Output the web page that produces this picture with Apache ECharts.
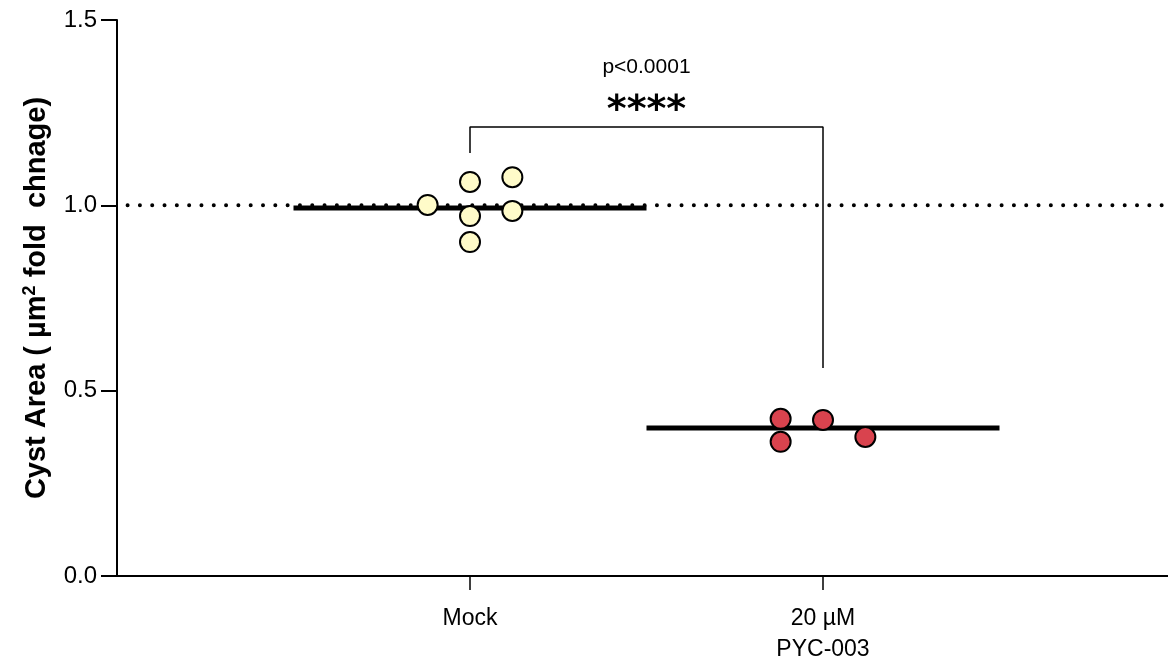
<!DOCTYPE html>
<html>
<head>
<meta charset="utf-8">
<script src="https://cdn.jsdelivr.net/npm/echarts@6/dist/echarts.min.js"></script>
<style>
  html, body { margin: 0; padding: 0; background: #fff; }
  #chart { width: 1168px; height: 665px; }
</style>
</head>
<body>
<div id="chart"></div>
<script>
// groups sit at x = 1 and x = 2 on a 0..3 value axis
var groupNames = ['Mock', '20 µM\nPYC-003']
var yTicks = [0, 0.5, 1.0, 1.5]

// individual points [x jitter, value]
var mockPoints = [[0.88, 1.001], [1.0, 1.063], [1.0, 0.971], [1.0, 0.901], [1.12, 1.076], [1.12, 0.985]]
var pycPoints = [[1.88, 0.424], [1.88, 0.362], [2.0, 0.421], [2.12, 0.375]]

// group means
var mockMean = 0.993
var pycMean = 0.399

// significance bracket
var bracket = [[1, 1.141], [1, 1.211], [2, 1.211], [2, 0.561]]
var pText = 'p<0.0001'
var stars = '****'

var chart = echarts.init(document.getElementById('chart'))

var font = '"Liberation Sans", Arial, sans-serif'

chart.setOption({
  animation: false,
  grid: {
    left: 117,
    top: 20,
    width: 1059,
    height: 556,
    outerBoundsMode: 'none'
  },
  xAxis: {
    type: 'value',
    min: 0,
    max: 3,
    interval: 1,
    axisLine: { lineStyle: { color: '#000', width: 2 } },
    axisTick: {
      show: true,
      length: 14,
      lineStyle: { color: '#000', width: 1.5 },
      customValues: [1, 2]
    },
    axisLabel: {
      color: '#000',
      fontSize: 23,
      fontFamily: font,
      margin: 27,
      lineHeight: 31,
      customValues: [1, 2],
      formatter: function (v) {
        return groupNames[Math.round(v) - 1] || ''
      }
    },
    splitLine: { show: false }
  },
  yAxis: {
    type: 'value',
    min: 0,
    max: 1.5,
    interval: 0.5,
    name: '{n|Cyst Area ( µm}{s|2}{n| fold  chnage)}',
    nameLocation: 'middle',
    nameRotate: 90,
    nameGap: 64,
    nameTextStyle: {
      rich: {
        n: { fontSize: 29, fontWeight: 'bold', fontFamily: font, color: '#000', lineHeight: 32 },
        s: { fontSize: 18, fontWeight: 'bold', fontFamily: font, color: '#000', verticalAlign: 'top', lineHeight: 32, padding: [0, 0, 12, 0] }
      }
    },
    axisLine: { show: true, lineStyle: { color: '#000', width: 2 } },
    axisTick: { show: true, length: 16, lineStyle: { color: '#000', width: 2 } },
    axisLabel: {
      color: '#000',
      fontSize: 24,
      fontFamily: font,
      margin: 20,
      formatter: function (v) { return v.toFixed(1) }
    },
    splitLine: { show: false }
  },
  series: [
    {
      // reference line at 1.0
      type: 'line',
      data: [[0.03, 1.0], [3, 1.0]],
      symbol: 'none',
      silent: true,
      z: 1,
      lineStyle: { color: '#000', width: 4, type: [0.01, 12.3], cap: 'round' }
    },
    {
      type: 'line',
      data: [[0.5, mockMean], [1.5, mockMean]],
      symbol: 'none',
      z: 2,
      lineStyle: { color: '#000', width: 5 }
    },
    {
      type: 'line',
      data: [[1.5, pycMean], [2.5, pycMean]],
      symbol: 'none',
      z: 2,
      lineStyle: { color: '#000', width: 5 }
    },
    {
      type: 'line',
      data: bracket,
      symbol: 'none',
      z: 2,
      lineStyle: { color: '#000', width: 1.5 }
    },
    {
      type: 'scatter',
      data: mockPoints,
      symbol: 'circle',
      symbolSize: 20,
      z: 5,
      itemStyle: { color: '#FFFBC9', borderColor: '#000', borderWidth: 2, opacity: 1 }
    },
    {
      type: 'scatter',
      data: pycPoints,
      symbol: 'circle',
      symbolSize: 20,
      z: 5,
      itemStyle: { color: '#D9434E', borderColor: '#000', borderWidth: 2, opacity: 1 }
    },
    {
      // annotation text
      type: 'scatter',
      data: [
        { value: [1.5, 1.373], label: { formatter: pText, fontSize: 21, fontWeight: 'normal', color: '#000', fontFamily: font } },
        { value: [1.5, 1.255], label: { formatter: stars, fontSize: 38, fontWeight: 'bold', color: '#000', fontFamily: 'DejaVu Sans' } }
      ],
      symbolSize: 0,
      silent: true,
      itemStyle: { opacity: 1 },
      label: {
        show: true,
        position: 'inside',
        color: '#000'
      }
    }
  ]
})
</script>
</body>
</html>
